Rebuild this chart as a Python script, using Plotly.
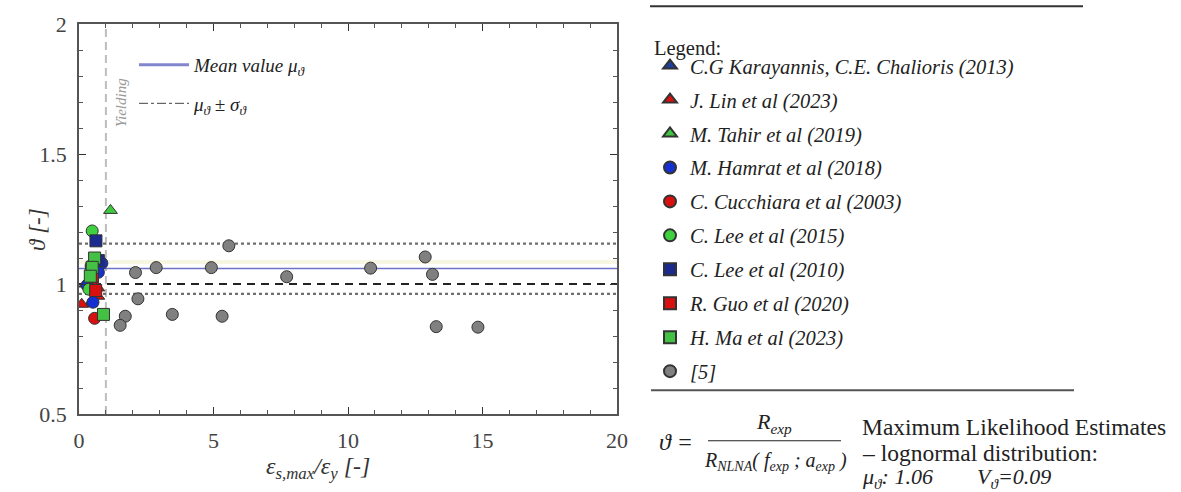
import plotly.graph_objects as go

# ---------------- data ----------------
karayannis_x = [0.25, 0.42]
karayannis_y = [1.00, 0.925]
lin_x = [0.10, 0.50, 0.70, 0.70]
lin_y = [0.922, 1.01, 0.985, 0.953]
tahir_x = [1.17]
tahir_y = [1.283]
hamrat_x = [0.85, 0.72, 0.30, 0.52]
hamrat_y = [1.08, 1.045, 0.995, 0.93]
cucchiara_x = [0.58, 0.45]
cucchiara_y = [0.868, 1.07]
lee2015_x = [0.49, 0.37, 0.45]
lee2015_y = [1.204, 0.98, 1.055]
lee2010_x = [0.63, 0.72]
lee2010_y = [1.166, 1.09]
guo_x = [0.50, 0.62]
guo_y = [1.03, 0.975]
ma_x = [0.58, 0.49, 0.42, 0.91]
ma_y = [1.10, 1.064, 1.03, 0.883]
ref5_x = [2.10, 2.87, 4.92, 5.57, 7.72, 10.84, 12.87, 13.14, 2.19, 1.72, 1.53, 3.47, 5.32, 13.28, 14.83]
ref5_y = [1.044, 1.063, 1.063, 1.147, 1.028, 1.061, 1.104, 1.037, 0.943, 0.876, 0.841, 0.883, 0.876, 0.836, 0.834]

MU = 1.06
COV = 0.09
MU_PLUS_SIGMA = 1.155
MU_MINUS_SIGMA = 0.962
UNITY = 1.0
YIELD_X = 1.0
X_RANGE = [0, 20]
Y_RANGE = [0.5, 2]

series = [
    ("C.G Karayannis, C.E. Chalioris (2013)", karayannis_x, karayannis_y, "triangle-up", "#1f3f9f"),
    ("J. Lin et al (2023)", lin_x, lin_y, "triangle-up", "#d81010"),
    ("M. Tahir et al (2019)", tahir_x, tahir_y, "triangle-up", "#3fc83f"),
    ("M. Hamrat et al (2018)", hamrat_x, hamrat_y, "circle", "#1530d0"),
    ("C. Cucchiara et al (2003)", cucchiara_x, cucchiara_y, "circle", "#d81010"),
    ("C. Lee et al (2015)", lee2015_x, lee2015_y, "circle", "#3fd03f"),
    ("C. Lee et al (2010)", lee2010_x, lee2010_y, "square", "#1a2a8e"),
    ("R. Guo et al (2020)", guo_x, guo_y, "square", "#d81010"),
    ("H. Ma et al (2023)", ma_x, ma_y, "square", "#44c044"),
    ("[5]", ref5_x, ref5_y, "circle", "#808080"),
]

# plot area in pixels
PL, PR, PT, PB = 79, 617, 20, 414


def px(x):
    return (x - PL) / (PR - PL)


def py(y):
    return (PB - y) / (PB - PT)


SERIF = "Liberation Serif"

fig = go.Figure()

# reference lines
fig.add_trace(go.Scatter(x=[YIELD_X, YIELD_X], y=Y_RANGE, mode="lines",
                         line=dict(color="#bdbdbd", width=2, dash="8px,5px"),
                         showlegend=False, hoverinfo="skip"))
fig.add_trace(go.Scatter(x=X_RANGE, y=[MU_PLUS_SIGMA] * 2, mode="lines",
                         line=dict(color="#6e6e6e", width=2.2, dash="dot"),
                         showlegend=False, hoverinfo="skip"))
fig.add_trace(go.Scatter(x=X_RANGE, y=[MU_MINUS_SIGMA] * 2, mode="lines",
                         line=dict(color="#6e6e6e", width=2.2, dash="dot"),
                         showlegend=False, hoverinfo="skip"))
fig.add_trace(go.Scatter(x=X_RANGE, y=[UNITY] * 2, mode="lines",
                         line=dict(color="#222222", width=2, dash="8px,6px"),
                         showlegend=False, hoverinfo="skip"))
fig.add_trace(go.Scatter(x=X_RANGE, y=[MU + 0.025] * 2, mode="lines",
                         line=dict(color="#f6f6e2", width=4),
                         showlegend=False, hoverinfo="skip"))
fig.add_trace(go.Scatter(x=X_RANGE, y=[MU] * 2, mode="lines",
                         line=dict(color="#6f73c8", width=1.5),
                         showlegend=False, hoverinfo="skip"))

# in-plot legend entries (legend2)
fig.add_trace(go.Scatter(x=[None], y=[None], mode="lines", name="Mean value μ<sub>ϑ</sub>",
                         line=dict(color="#8286cc", width=3),
                         legend="legend2", legendgroup="m"))
fig.add_trace(go.Scatter(x=[None], y=[None], mode="lines", name="μ<sub>ϑ</sub> ± σ<sub>ϑ</sub>",
                         line=dict(color="#444444", width=1, dash="dashdot"),
                         legend="legend2", legendgroup="s"))

# data series
for i, (name, xs, ys, sym, col) in enumerate(series):
    fig.add_trace(go.Scatter(
        x=xs, y=ys, mode="markers", name=name,
        marker=dict(symbol=sym, size=12, color=col, line=dict(color="#333333", width=1)),
        legendgroup=f"g{i}", legend="legend",
    ))

tickfont = dict(family=SERIF, size=22, color="#444444")
fig.update_xaxes(range=X_RANGE, tickvals=[0, 5, 10, 15, 20], ticks="inside", ticklen=7,
                 tickcolor="#333", showline=True, linecolor="#555", linewidth=1.5,
                 mirror="ticks", showgrid=False, zeroline=False, tickfont=tickfont,
                 ticklabelstandoff=6,
                 minor=dict(dtick=1, ticks="inside", ticklen=4, tickcolor="#555", showgrid=False))
fig.update_yaxes(range=Y_RANGE, tickvals=[0.5, 1, 1.5, 2], ticktext=["0.5", "1", "1.5", "2"],
                 ticks="inside", ticklen=7, tickcolor="#333", showline=True, linecolor="#555",
                 linewidth=1.5, mirror="ticks", showgrid=False, zeroline=False, tickfont=tickfont,
                 ticklabelstandoff=6,
                 minor=dict(dtick=0.1, ticks="inside", ticklen=4, tickcolor="#555", showgrid=False))


def ann(x, y, text, size, style="normal", color="#222", xanchor="center", angle=0):
    return dict(x=px(x), y=py(y), xref="paper", yref="paper", text=text, showarrow=False,
                textangle=angle, xanchor=xanchor, yanchor="middle",
                font=dict(family=SERIF, size=size, color=color, style=style))


annotations = [
    ann(318, 469, "ε<sub>s,max</sub>/ε<sub>y</sub> [-]", 24, "italic", "#333"),
    ann(38, 228, "ϑ [-]", 23, "italic", "#333", angle=-90),
    ann(121, 100, "Yielding", 15, "italic", "#999", angle=-90),
    ann(652, 45, "Legend:", 20.5, "normal", "#222", xanchor="left"),
    ann(676, 442, "ϑ =", 24, "italic"),
    ann(774, 423, "R<sub>exp</sub>", 22, "italic"),
    ann(775, 462, "R<sub>NLNA</sub>( f<sub>exp</sub> ; a<sub>exp</sub> )", 20, "italic"),
    ann(860, 427, "Maximum Likelihood Estimates", 23.5, "normal", xanchor="left"),
    ann(860, 453, "– lognormal distribution:", 23.5, "normal", xanchor="left"),
    ann(860, 479, f"μ<sub>ϑ</sub>: {MU:.2f}        V<sub>ϑ</sub>={COV:.2f}", 22, "italic", xanchor="left"),
]

shapes = [
    dict(type="line", xref="paper", yref="paper", x0=px(650), x1=px(1083), y0=py(2), y1=py(2),
         line=dict(color="#333", width=2)),
    dict(type="line", xref="paper", yref="paper", x0=px(651), x1=px(1074), y0=py(390), y1=py(390),
         line=dict(color="#555", width=2)),
    dict(type="line", xref="paper", yref="paper", x0=px(708), x1=px(841), y0=py(441), y1=py(441),
         line=dict(color="#222", width=1.2)),
]

fig.update_layout(
    width=1181, height=492,
    margin=dict(l=PL, r=1181 - PR, t=PT, b=492 - PB),
    paper_bgcolor="white", plot_bgcolor="white",
    annotations=annotations, shapes=shapes,
    legend=dict(
        x=px(650), y=py(42), xanchor="left", yanchor="top",
        font=dict(family=SERIF, size=20.5, color="#222", style="italic"),
        tracegroupgap=4.3, itemsizing="constant", bgcolor="rgba(0,0,0,0)",
    ),
    legend2=dict(
        x=px(134), y=py(42), xanchor="left", yanchor="top",
        font=dict(family=SERIF, size=19, color="#222", style="italic"),
        tracegroupgap=11, itemwidth=50, bgcolor="rgba(0,0,0,0)",
    ),
)

fig.write_html("out.html")
